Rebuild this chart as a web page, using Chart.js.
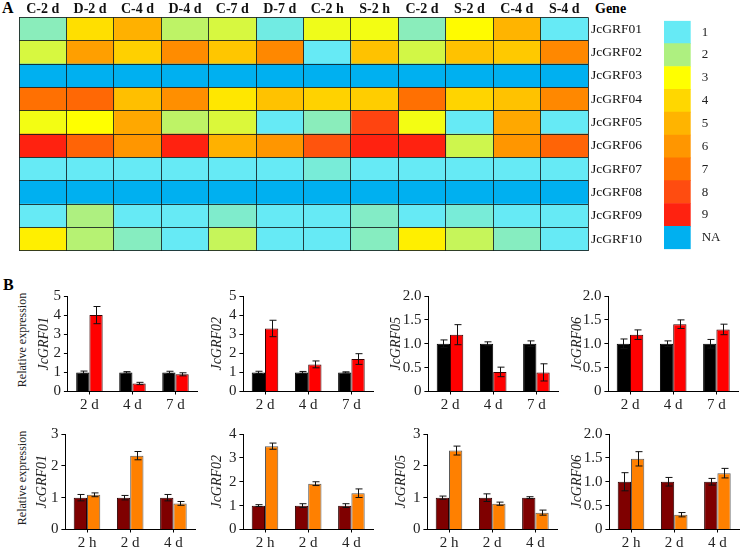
<!DOCTYPE html>
<html>
<head>
<meta charset="utf-8">
<script src="https://cdn.jsdelivr.net/npm/chart.js@4"></script>
<style>
  body { margin: 0; background: #fff; }
  #wrap { position: relative; width: 741px; height: 551px; overflow: hidden; font-family: "Liberation Serif", "DejaVu Serif", serif; }
  canvas, .txt { position: absolute; }
  .bold { font-weight: bold; }
  .rot { font-size: 12px; color: #222; white-space: nowrap; transform: translate(-50%, -50%) rotate(-90deg); line-height: 1; }
</style>
</head>
<body>
<div id="wrap">
  <div class="txt bold" style="left:2px;top:0px;font-size:16px;line-height:16px;">A</div>
  <div class="txt bold" style="left:3px;top:277px;font-size:16px;line-height:16px;">B</div>
  <div class="txt bold" style="left:595px;top:2px;font-size:14px;line-height:14px;">Gene</div>
  <div class="txt rot" style="left:22px;top:340px;">Relative expression</div>
  <div class="txt rot" style="left:22px;top:478px;">Relative expression</div>

  <canvas id="heat" width="660" height="262" style="left:0;top:0;"></canvas>
  <canvas id="key" width="86" height="250" style="left:655px;top:10px;"></canvas>
  <canvas id="b1"></canvas>
  <canvas id="b2"></canvas>
  <canvas id="b3"></canvas>
  <canvas id="b4"></canvas>
  <canvas id="b5"></canvas>
  <canvas id="b6"></canvas>
  <canvas id="b7"></canvas>
  <canvas id="b8"></canvas>
</div>
<script>
// ---------- heatmap (A) ----------
const conditions = ['C-2 d', 'D-2 d', 'C-4 d', 'D-4 d', 'C-7 d', 'D-7 d', 'C-2 h', 'S-2 h', 'C-2 d', 'S-2 d', 'C-4 d', 'S-4 d']
const genes = ['JcGRF01', 'JcGRF02', 'JcGRF03', 'JcGRF04', 'JcGRF05', 'JcGRF06', 'JcGRF07', 'JcGRF08', 'JcGRF09', 'JcGRF10']

// expression level (1-9), null = NA
const grf01 = [1.5, 3.8, 5.1, 2.2, 2.5, 1.15, 2.8, 2.85, 1.5, 3.1, 5.0, 1]
const grf02 = [2.5, 5.7, 4.2, 6.3, 4.5, 6.4, 1, 4.6, 2.45, 4.6, 4.4, 6.4]
const grf03 = [null, null, null, null, null, null, null, null, null, null, null, null]
const grf04 = [7.1, 7.3, 4.7, 6.2, 3.6, 4.6, 4.15, 4.3, 7.1, 4.1, 4.6, 6.4]
const grf05 = [2.85, 3.0, 5.4, 2.2, 2.55, 1, 1.5, 8.2, 2.85, 1, 5.4, 1]
const grf06 = [9, 7.4, 6.0, 9, 5.1, 6.0, 7.8, 9.2, 9, 2.4, 6.0, 7.4]
const grf07 = [1, 1, 1, 1, 1, 1, 1.25, 1, 1, 1, 1, 1]
const grf08 = [null, null, null, null, null, null, null, null, null, null, null, null]
const grf09 = [1, 2.0, 1, 1, 1.35, 1, 1, 1.4, 1, 1.25, 1, 1]
const grf10 = [3.4, 2.1, 1.45, 1, 2.3, 1, 1, 1.45, 3.4, 2.3, 1.45, 1]

const keyLabels = ['1', '2', '3', '4', '5', '6', '7', '8', '9', 'NA']
const keyColors = ['#66EAF5', '#AEF080', '#FFFF00', '#FFD700', '#FFB400', '#FF9600', '#FF7400', '#FF4C10', '#FF2210', '#00B0F0']

// ---------- bar charts (B) ----------
const droughtTimes = ['2 d', '4 d', '7 d']
const saltTimes = ['2 h', '2 d', '4 d']

const droughtCtrl01 = [1, 1, 1], droughtCtrlErr01 = [0.07, 0.04, 0.06]
const drought01 = [4.0, 0.42, 0.9], droughtErr01 = [0.45, 0.06, 0.08]
const droughtCtrl02 = [1, 1, 1], droughtCtrlErr02 = [0.06, 0.05, 0.03]
const drought02 = [3.3, 1.42, 1.7], droughtErr02 = [0.43, 0.18, 0.28]
const droughtCtrl05 = [1, 1, 1], droughtCtrlErr05 = [0.08, 0.04, 0.06]
const drought05 = [1.19, 0.41, 0.4], droughtErr05 = [0.21, 0.1, 0.18]
const droughtCtrl06 = [1, 1, 1], droughtCtrlErr06 = [0.1, 0.06, 0.09]
const drought06 = [1.19, 1.41, 1.3], droughtErr06 = [0.1, 0.09, 0.11]

const saltCtrl01 = [1, 1, 1], saltCtrlErr01 = [0.1, 0.07, 0.1]
const salt01 = [1.09, 2.32, 0.82], saltErr01 = [0.06, 0.13, 0.06]
const saltCtrl02 = [1, 1, 1], saltCtrlErr02 = [0.04, 0.08, 0.08]
const salt02 = [3.49, 1.92, 1.52], saltErr02 = [0.13, 0.08, 0.18]
const saltCtrl05 = [1, 1, 1], saltCtrlErr05 = [0.05, 0.12, 0.03]
const salt05 = [2.48, 0.81, 0.53], saltErr05 = [0.14, 0.05, 0.08]
const saltCtrl06 = [1, 1, 1], saltCtrlErr06 = [0.19, 0.09, 0.07]
const salt06 = [1.48, 0.31, 1.18], saltErr06 = [0.15, 0.045, 0.1]

const serif = '"Liberation Serif", "DejaVu Serif", serif'

// colour for a level, interpolated between the key colours
const hexToRgb = (h) => [parseInt(h.slice(1, 3), 16), parseInt(h.slice(3, 5), 16), parseInt(h.slice(5, 7), 16)]
const levelColor = (v) => {
  if (v === null) return keyColors[9]
  let t = Math.min(Math.max(v, 1), 9) - 1
  let i = Math.min(Math.floor(t), 7)
  let f = t - i
  let a = hexToRgb(keyColors[i]), b = hexToRgb(keyColors[i + 1])
  let c = a.map((x, k) => Math.round(x + (b[k] - x) * f))
  return 'rgb(' + c.join(',') + ')'
}

const heatRows = [grf01, grf02, grf03, grf04, grf05, grf06, grf07, grf08, grf09, grf10]

new Chart(document.getElementById('heat'), {
  type: 'bar',
  data: {
    labels: genes,
    datasets: conditions.map((c, j) => ({
      label: c,
      data: genes.map(() => 1),
      backgroundColor: heatRows.map(r => levelColor(r[j])),
      borderWidth: 0,
      barPercentage: 1,
      categoryPercentage: 1
    }))
  },
  options: {
    indexAxis: 'y',
    responsive: false,
    animation: false,
    layout: { padding: { left: 19, top: 0, right: 0, bottom: 4.7 } },
    plugins: { legend: { display: false }, tooltip: { enabled: false } },
    scales: {
      x: {
        stacked: true, min: 0, max: 12,
        ticks: { display: false, stepSize: 1 },
        grid: { color: 'rgba(20,30,30,0.85)', lineWidth: 1, drawTicks: false, z: 1 },
        border: { display: false },
        afterFit: (s) => { s.height = 0 }
      },
      x2: {
        type: 'category', axis: 'x', position: 'top', labels: conditions, offset: true,
        grid: { display: false, drawTicks: false },
        border: { display: false },
        ticks: { color: '#111', font: { family: serif, size: 14, weight: 'bold' }, padding: 0, maxRotation: 0, autoSkip: false },
        afterFit: (s) => { s.height = 17.3 }
      },
      y: {
        stacked: true, position: 'right',
        grid: { color: 'rgba(20,30,30,0.85)', lineWidth: 1, drawTicks: false, offset: true, z: 1 },
        border: { display: false },
        ticks: { color: '#111', font: { family: serif, size: 13.5 }, padding: 3, autoSkip: false },
        afterFit: (s) => { s.width = 72 }
      }
    }
  }
})

new Chart(document.getElementById('key'), {
  type: 'bar',
  data: {
    labels: keyLabels,
    datasets: [{ data: keyLabels.map(() => 1), backgroundColor: keyColors, borderWidth: 0, barPercentage: 1, categoryPercentage: 1 }]
  },
  options: {
    indexAxis: 'y',
    responsive: false,
    animation: false,
    layout: { padding: { left: 9, top: 8.3, right: 0, bottom: 3.3 } },
    plugins: { legend: { display: false }, tooltip: { enabled: false } },
    scales: {
      x: { min: 0, max: 1, display: false },
      y: {
        position: 'right',
        grid: { display: false }, border: { display: false },
        ticks: { color: '#222', font: { family: serif, size: 13 }, padding: 3, autoSkip: false },
        afterFit: (s) => { s.width = 50.3 }
      }
    }
  }
})

// error bars drawn through the y scale
const errorBars = {
  id: 'errorBars',
  afterDatasetsDraw(chart) {
    const ctx = chart.ctx
    const y = chart.scales.y
    ctx.save()
    ctx.strokeStyle = '#111'
    ctx.lineWidth = 1
    chart.data.datasets.forEach((ds, i) => {
      chart.getDatasetMeta(i).data.forEach((bar, j) => {
        const v = ds.data[j], e = ds.errors[j]
        const top = y.getPixelForValue(v + e), bot = y.getPixelForValue(v - e)
        const x = Math.round(bar.x) + 0.5
        ctx.beginPath()
        ctx.moveTo(x, top); ctx.lineTo(x, bot)
        ctx.moveTo(x - 3, top); ctx.lineTo(x + 4, top)
        ctx.moveTo(x - 3, bot); ctx.lineTo(x + 4, bot)
        ctx.stroke()
      })
    })
    ctx.restore()
  }
}

const droughtStyle = { ctrl: '#000000', ctrlBorder: '#000000', trt: '#FF0000', trtBorder: '#3a0000' }
const saltStyle = { ctrl: '#7F0000', ctrlBorder: '#2a0000', trt: '#FF8000', trtBorder: '#5a5a5a' }

const barChart = (id, p) => {
  const W = p.gap + 8.4
  const cv = document.getElementById(id)
  cv.width = W + 134
  cv.height = 130
  cv.style.left = (p.axisX - W) + 'px'
  cv.style.top = p.top + 'px'
  const fmt = p.step < 1 ? (v) => (v === 0 ? '0' : v.toFixed(1)) : (v) => String(v)
  return new Chart(cv, {
    type: 'bar',
    data: {
      labels: p.labels,
      datasets: [
        { data: p.ctrl, errors: p.ctrlErr, backgroundColor: p.style.ctrl, borderColor: p.style.ctrlBorder, borderWidth: 1 },
        { data: p.trt, errors: p.trtErr, backgroundColor: p.style.trt, borderColor: p.style.trtBorder, borderWidth: 1 }
      ]
    },
    options: {
      responsive: false,
      animation: false,
      layout: { padding: { left: 0, top: 10, right: 4, bottom: 0 } },
      datasets: { bar: { barPercentage: 1, categoryPercentage: 0.615 } },
      plugins: { legend: { display: false }, tooltip: { enabled: false } },
      scales: {
        x: {
          grid: { display: true, drawOnChartArea: false, offset: false, tickLength: 3, color: '#000' },
          border: { display: true, color: '#000', width: 1 },
          ticks: { color: '#222', font: { family: serif, size: 15 }, padding: 2, maxRotation: 0, autoSkip: false },
          afterFit: (s) => { s.height = 22.5 }
        },
        y: {
          min: 0, max: p.max,
          grid: { display: true, drawOnChartArea: false, tickLength: 4, color: '#000' },
          border: { display: true, color: '#000', width: 1 },
          ticks: { stepSize: p.step, autoSkip: false, color: '#222', font: { family: serif, size: 15 }, padding: 3, callback: fmt },
          title: { display: true, text: p.title, color: '#222', padding: 0, font: { family: serif, size: 14, style: 'italic', lineHeight: 1.2 } },
          afterFit: (s) => { s.width = W }
        }
      }
    },
    plugins: [errorBars]
  })
}

barChart('b1', { axisX: 67.5, top: 284, labels: droughtTimes, ctrl: droughtCtrl01, ctrlErr: droughtCtrlErr01, trt: drought01, trtErr: droughtErr01, max: 5, step: 1, title: 'JcGRF01', gap: 23.5, style: droughtStyle })
barChart('b2', { axisX: 243.5, top: 284, labels: droughtTimes, ctrl: droughtCtrl02, ctrlErr: droughtCtrlErr02, trt: drought02, trtErr: droughtErr02, max: 5, step: 1, title: 'JcGRF02', gap: 26, style: droughtStyle })
barChart('b3', { axisX: 428.5, top: 284, labels: droughtTimes, ctrl: droughtCtrl05, ctrlErr: droughtCtrlErr05, trt: drought05, trtErr: droughtErr05, max: 2, step: 0.5, title: 'JcGRF05', gap: 32, style: droughtStyle })
barChart('b4', { axisX: 608.5, top: 284, labels: droughtTimes, ctrl: droughtCtrl06, ctrlErr: droughtCtrlErr06, trt: drought06, trtErr: droughtErr06, max: 2, step: 0.5, title: 'JcGRF06', gap: 31, style: droughtStyle })

barChart('b5', { axisX: 65, top: 421.5, labels: saltTimes, ctrl: saltCtrl01, ctrlErr: saltCtrlErr01, trt: salt01, trtErr: saltErr01, max: 3, step: 1, title: 'JcGRF01', gap: 23, style: saltStyle })
barChart('b6', { axisX: 243.5, top: 421.5, labels: saltTimes, ctrl: saltCtrl02, ctrlErr: saltCtrlErr02, trt: salt02, trtErr: saltErr02, max: 4, step: 1, title: 'JcGRF02', gap: 26, style: saltStyle })
barChart('b7', { axisX: 427.5, top: 421.5, labels: saltTimes, ctrl: saltCtrl05, ctrlErr: saltCtrlErr05, trt: salt05, trtErr: saltErr05, max: 3, step: 1, title: 'JcGRF05', gap: 26, style: saltStyle })
barChart('b8', { axisX: 609.3, top: 421.5, labels: saltTimes, ctrl: saltCtrl06, ctrlErr: saltCtrlErr06, trt: salt06, trtErr: saltErr06, max: 2, step: 0.5, title: 'JcGRF06', gap: 32, style: saltStyle })
</script>
</body>
</html>
